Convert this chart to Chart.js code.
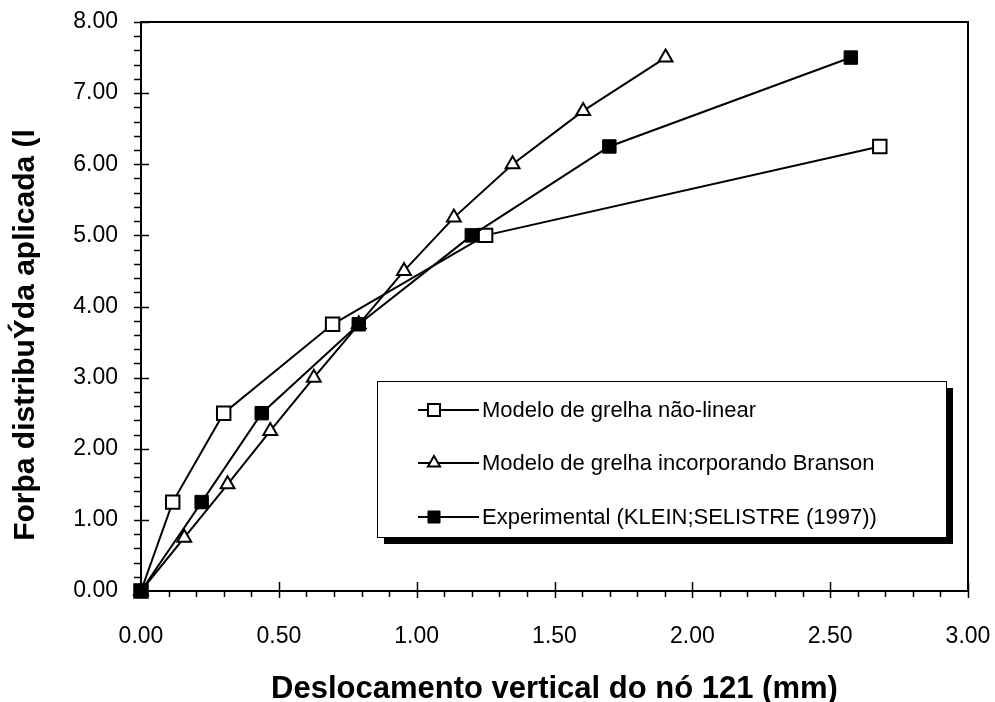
<!DOCTYPE html>
<html>
<head>
<meta charset="utf-8">
<script src="https://cdn.jsdelivr.net/npm/chart.js@4/dist/chart.umd.min.js"></script>
<style>
  html, body { margin: 0; padding: 0; background: #fff; }
  #wrap { width: 995px; height: 702px; }
</style>
</head>
<body>
<div id="wrap"><canvas id="chart"></canvas></div>
<script>
// displacement (mm) and load values
var naoLinearX = [0, 0.115, 0.30, 0.695, 1.25, 2.68];
var naoLinearY = [0, 1.25, 2.50, 3.75, 5.00, 6.25];

var bransonX = [0, 0.157, 0.314, 0.469, 0.627, 0.79, 0.954, 1.135, 1.348, 1.604, 1.903];
var bransonY = [0, 0.75, 1.50, 2.25, 3.00, 3.75, 4.50, 5.25, 6.00, 6.75, 7.50];

var experimentalX = [0, 0.22, 0.438, 0.79, 1.20, 1.699, 2.575];
var experimentalY = [0, 1.25, 2.50, 3.75, 5.00, 6.25, 7.50];

var seriesNames = [
  "Modelo de grelha não-linear",
  "Modelo de grelha incorporando Branson",
  "Experimental (KLEIN;SELISTRE (1997))"
];

var xTitle = "Deslocamento vertical do nó 121 (mm)";
var yTitle = "Forþa distribuÝda aplicada (l";

// pair x and y lists into points
function toPoints(xs, ys) {
  var pts = [];
  for (var i = 0; i < xs.length; i++) {
    pts.push({ x: xs[i], y: ys[i] });
  }
  return pts;
}

var fontFamily = "Arial, 'Liberation Sans', sans-serif";

// draws the frame round the plot and the excel-like tick marks
var frameTicks = {
  id: "frameTicks",
  afterDraw: function (chart) {
    var ctx = chart.ctx;
    var area = chart.chartArea;
    var xs = chart.scales.x;
    var ys = chart.scales.y;
    ctx.save();
    ctx.strokeStyle = "#000";
    ctx.lineWidth = 2;
    ctx.strokeRect(area.left, area.top, area.right - area.left, area.bottom - area.top);

    ctx.lineWidth = 1.5;
    ctx.beginPath();
    // y axis: minor every 0.2 to the outside, major every 1 crossing
    for (var i = 0; i <= 40; i++) {
      var py = Math.round(ys.getPixelForValue(i * 0.2)) + 0.5;
      if (i % 5 === 0) {
        ctx.moveTo(area.left - 7, py);
        ctx.lineTo(area.left + 8, py);
      } else {
        ctx.moveTo(area.left - 7, py);
        ctx.lineTo(area.left, py);
      }
    }
    // x axis: minor every 0.1 below, major every 0.5 crossing
    for (var j = 0; j <= 30; j++) {
      var px = Math.round(xs.getPixelForValue(j * 0.1)) + 0.5;
      if (j % 5 === 0) {
        ctx.moveTo(px, area.bottom - 9);
        ctx.lineTo(px, area.bottom + 7);
      } else {
        ctx.moveTo(px, area.bottom);
        ctx.lineTo(px, area.bottom + 6);
      }
    }
    ctx.stroke();

    // y title, sits a bit below the plot centre like the original
    ctx.fillStyle = "#000";
    ctx.font = "bold 30px " + fontFamily;
    ctx.textAlign = "center";
    ctx.textBaseline = "middle";
    ctx.translate(26, 335);
    ctx.rotate(-Math.PI / 2);
    ctx.fillText(yTitle, 0, 0);
    ctx.restore();
  }
};

// boxed legend with a drop shadow, drawn over the plot
var boxLegend = {
  id: "boxLegend",
  afterDraw: function (chart) {
    var ctx = chart.ctx;
    var box = { left: 377, top: 381, right: 946, bottom: 537 };
    var shadow = 7;
    ctx.save();
    ctx.fillStyle = "#000";
    ctx.fillRect(box.left + shadow, box.top + shadow, box.right - box.left, box.bottom - box.top);
    ctx.fillStyle = "#fff";
    ctx.fillRect(box.left, box.top, box.right - box.left, box.bottom - box.top);
    ctx.strokeStyle = "#000";
    ctx.lineWidth = 1;
    ctx.strokeRect(box.left + 0.5, box.top + 0.5, box.right - box.left, box.bottom - box.top);

    var rows = [410, 463, 517];
    chart.data.datasets.forEach(function (ds, k) {
      var y = rows[k];
      ctx.strokeStyle = "#000";
      ctx.lineWidth = 2;
      ctx.beginPath();
      ctx.moveTo(418, y);
      ctx.lineTo(479, y);
      ctx.stroke();
      ctx.fillStyle = ds.pointBackgroundColor;
      ctx.strokeStyle = ds.pointBorderColor;
      ctx.lineWidth = ds.pointBorderWidth;
      Chart.helpers.drawPoint(ctx, {
        pointStyle: ds.pointStyle,
        radius: ds.pointStyle === "triangle" ? 7 : 8.5,
        rotation: 0,
        borderWidth: ds.pointBorderWidth
      }, 434, y);
      ctx.fillStyle = "#000";
      ctx.font = "22px " + fontFamily;
      ctx.textAlign = "left";
      ctx.textBaseline = "middle";
      ctx.fillText(ds.label, 482, y + 1);
    });
    ctx.restore();
  }
};

var ctx = document.getElementById("chart").getContext("2d");

var chart = new Chart(ctx, {
  type: "scatter",
  data: {
    datasets: [
      {
        label: seriesNames[0],
        data: toPoints(naoLinearX, naoLinearY),
        showLine: true,
        borderColor: "#000",
        borderWidth: 2,
        pointStyle: "rect",
        pointRadius: 9.5,
        pointBackgroundColor: "#fff",
        pointBorderColor: "#000",
        pointBorderWidth: 2,
        order: 2,
        clip: false
      },
      {
        label: seriesNames[1],
        data: toPoints(bransonX, bransonY),
        showLine: true,
        borderColor: "#000",
        borderWidth: 2,
        pointStyle: "triangle",
        pointRadius: 8,
        pointBackgroundColor: "#fff",
        pointBorderColor: "#000",
        pointBorderWidth: 2,
        order: 1,
        clip: false
      },
      {
        label: seriesNames[2],
        data: toPoints(experimentalX, experimentalY),
        showLine: true,
        borderColor: "#000",
        borderWidth: 2,
        pointStyle: "rect",
        pointRadius: 9.5,
        pointBackgroundColor: "#000",
        pointBorderColor: "#000",
        pointBorderWidth: 1,
        order: 0,
        clip: false
      }
    ]
  },
  options: {
    responsive: true,
    maintainAspectRatio: false,
    animation: false,
    layout: {
      padding: { left: 0, top: 22, right: 27, bottom: 0 }
    },
    plugins: {
      legend: { display: false },
      tooltip: { enabled: false }
    },
    scales: {
      x: {
        type: "linear",
        min: 0,
        max: 3,
        afterFit: function (scale) {
          scale.height = 111;
          scale.paddingLeft = 0;
          scale.paddingRight = 0;
        },
        grid: { display: false, drawTicks: false },
        border: { display: false },
        ticks: {
          stepSize: 0.5,
          padding: 32,
          color: "#000",
          font: { family: fontFamily, size: 23 },
          callback: function (v) { return v.toFixed(2); }
        },
        title: {
          display: true,
          text: xTitle,
          color: "#000",
          font: { family: fontFamily, size: 31, weight: "bold", lineHeight: 0.8 },
          padding: { top: 0, bottom: 0 }
        }
      },
      y: {
        type: "linear",
        min: 0,
        max: 8,
        afterFit: function (scale) {
          scale.width = 141;
          scale.paddingTop = 0;
          scale.paddingBottom = 0;
        },
        grid: { display: false, drawTicks: false },
        border: { display: false },
        ticks: {
          stepSize: 1,
          padding: 23,
          color: "#000",
          font: { family: fontFamily, size: 23 },
          callback: function (v) { return v.toFixed(2); }
        },
        title: { display: false }
      }
    }
  },
  plugins: [frameTicks, boxLegend]
});
</script>
</body>
</html>
